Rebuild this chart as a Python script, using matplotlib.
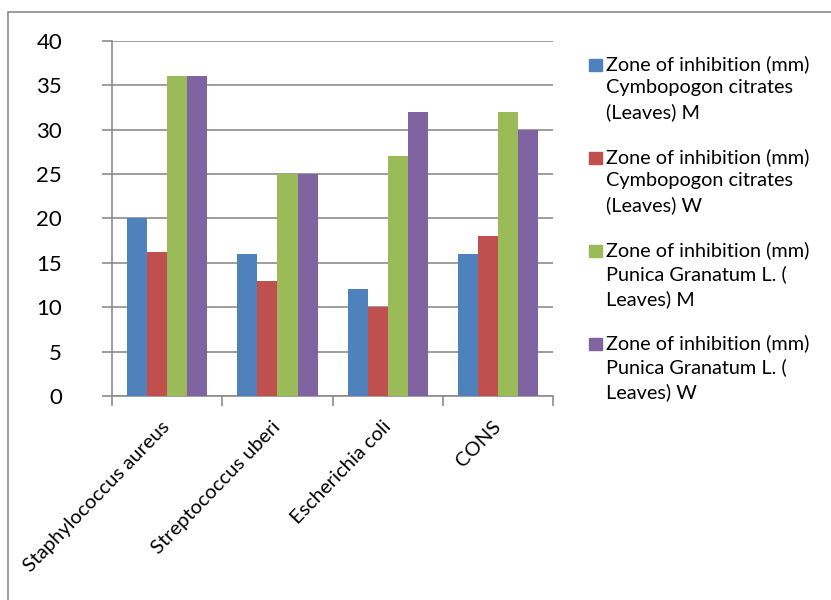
import matplotlib.pyplot as plt
import numpy as np
from matplotlib.patches import Rectangle

# data
bakteriler = ["Staphylococcus aureus", "Streptococcus uberi", "Escherichia coli", "CONS"]
cymbo_m = [20, 16, 12, 16]
cymbo_w = [16.2, 13, 10, 18]
punica_m = [36, 25, 27, 32]
punica_w = [36, 25, 32, 30]
seri_adlari = [
    "Zone of inhibition (mm)\nCymbopogon citrates\n(Leaves) M",
    "Zone of inhibition (mm)\nCymbopogon citrates\n(Leaves) W",
    "Zone of inhibition (mm)\nPunica Granatum L. (\nLeaves) M",
    "Zone of inhibition (mm)\nPunica Granatum L. (\nLeaves) W",
]
renkler = ["#4f81bd", "#c0504d", "#9bbb59", "#8064a2"]

plt.rcParams['font.family'] = ['Lato', 'DejaVu Sans']

fig = plt.figure(figsize=(8.31, 6), dpi=100)
ax = fig.add_axes([0.1348, 0.34, 0.531, 0.5917])

# outer chart frame (cut off at right and bottom like the screenshot)
fig.patches.append(Rectangle((8 / 831, -0.1), 1.2, 1 - 12 / 600 + 0.1,
                             transform=fig.transFigure, fill=False,
                             edgecolor="#8c8c8c", linewidth=1.2))

x = np.arange(len(bakteriler))
w = 1 / 5.5
seriler = [cymbo_m, cymbo_w, punica_m, punica_w]
for i, (vals, renk) in enumerate(zip(seriler, renkler)):
    ax.bar(x + (i - 1.5) * w, vals, width=w, color=renk, zorder=3)

ax.set_xlim(-0.5, len(bakteriler) - 0.5)
ax.set_ylim(0, 40)
ax.set_yticks(range(0, 41, 5))
ax.yaxis.grid(True, color="#8c8c8c", linewidth=1.2, zorder=0)
ax.set_axisbelow(True)

for s in ["top", "right"]:
    ax.spines[s].set_visible(False)
for s in ["left", "bottom"]:
    ax.spines[s].set_color("#8c8c8c")
    ax.spines[s].set_linewidth(1.2)

ax.set_xticks(x)
ax.set_xticklabels(bakteriler, rotation=46, ha="right", va="center",
                   rotation_mode="anchor", fontsize=14.5)
ax.tick_params(axis="x", which="major", length=0, pad=20)
ax.set_xticks(np.arange(-0.5, len(bakteriler)), minor=True)
ax.tick_params(axis="x", which="minor", length=7, color="#8c8c8c", width=1.2)
ax.tick_params(axis="y", length=7, color="#8c8c8c", width=1.2, labelsize=16, pad=29)

# legend drawn by hand so the square sits on the first text line
for i, (ad, renk) in enumerate(zip(seri_adlari, renkler)):
    y_ust = 1 - (59 + i * 93) / 600
    fig.patches.append(Rectangle((589 / 831, y_ust - 12 / 600), 13 / 831, 12 / 600,
                                 transform=fig.transFigure, color=renk))
    fig.text(606 / 831, y_ust + 4 / 600, ad, fontsize=14.3, va="top", ha="left",
             linespacing=1.45)

fig.savefig("out.png", dpi=100)
